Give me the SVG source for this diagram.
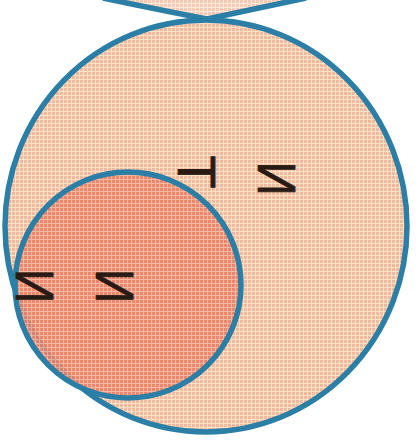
<svg xmlns="http://www.w3.org/2000/svg" width="418" height="448" viewBox="0 0 418 448">
<defs>
<pattern id="pBig" width="4" height="4" patternUnits="userSpaceOnUse">
<rect width="4" height="4" fill="#fbe2c2"/>
<rect width="3" height="3" fill="#f3b9a0"/>
</pattern>
<pattern id="pTop" width="4" height="4" patternUnits="userSpaceOnUse">
<rect width="4" height="4" fill="#fdeadb"/>
<rect width="3" height="3" fill="#f5c9b4"/>
</pattern>
<pattern id="pSmall" width="4" height="4" patternUnits="userSpaceOnUse">
<rect width="4" height="4" fill="#f5b39c"/>
<rect width="3" height="3" fill="#eb8068"/>
</pattern>
<style>
.edge{stroke:#2b7ea6;stroke-width:5.5;stroke-linejoin:miter;}
.lbl{font-family:"Liberation Sans",Arial,sans-serif;font-size:54px;fill:#2a1a14;stroke:#2a1a14;stroke-width:0.8;text-anchor:middle;}
</style>
</defs>
<rect width="418" height="448" fill="#ffffff"/>
<g id="top-shape">
<path d="M103,-2 Q160,10 207,19 Q255,9 306,-2 Z" fill="url(#pTop)"/>
<path d="M103,-2 Q160,10 207,19 M207,19 Q255,9 306,-2" fill="none" class="edge"/>
</g>
<g id="outer-circle">
<ellipse cx="206" cy="226" rx="201" ry="206" fill="url(#pBig)" class="edge"/>
</g>
<g id="inner-circle">
<circle cx="128" cy="285" r="113" fill="url(#pSmall)" fill-opacity="0.9" class="edge"/>
</g>
<g id="labels">
<text class="lbl" transform="translate(178.2,172) matrix(0,-1,-1,0,0,0)">T</text>
<text class="lbl" transform="translate(258.2,178.5) matrix(0,-1,-1,0,0,0) scale(0.88,1)">N</text>
<text class="lbl" transform="translate(15.7,286) matrix(0,-1,-1,0,0,0) scale(0.88,1)">N</text>
<text class="lbl" transform="translate(95.7,286) matrix(0,-1,-1,0,0,0) scale(0.88,1)">N</text>
</g>
</svg>
